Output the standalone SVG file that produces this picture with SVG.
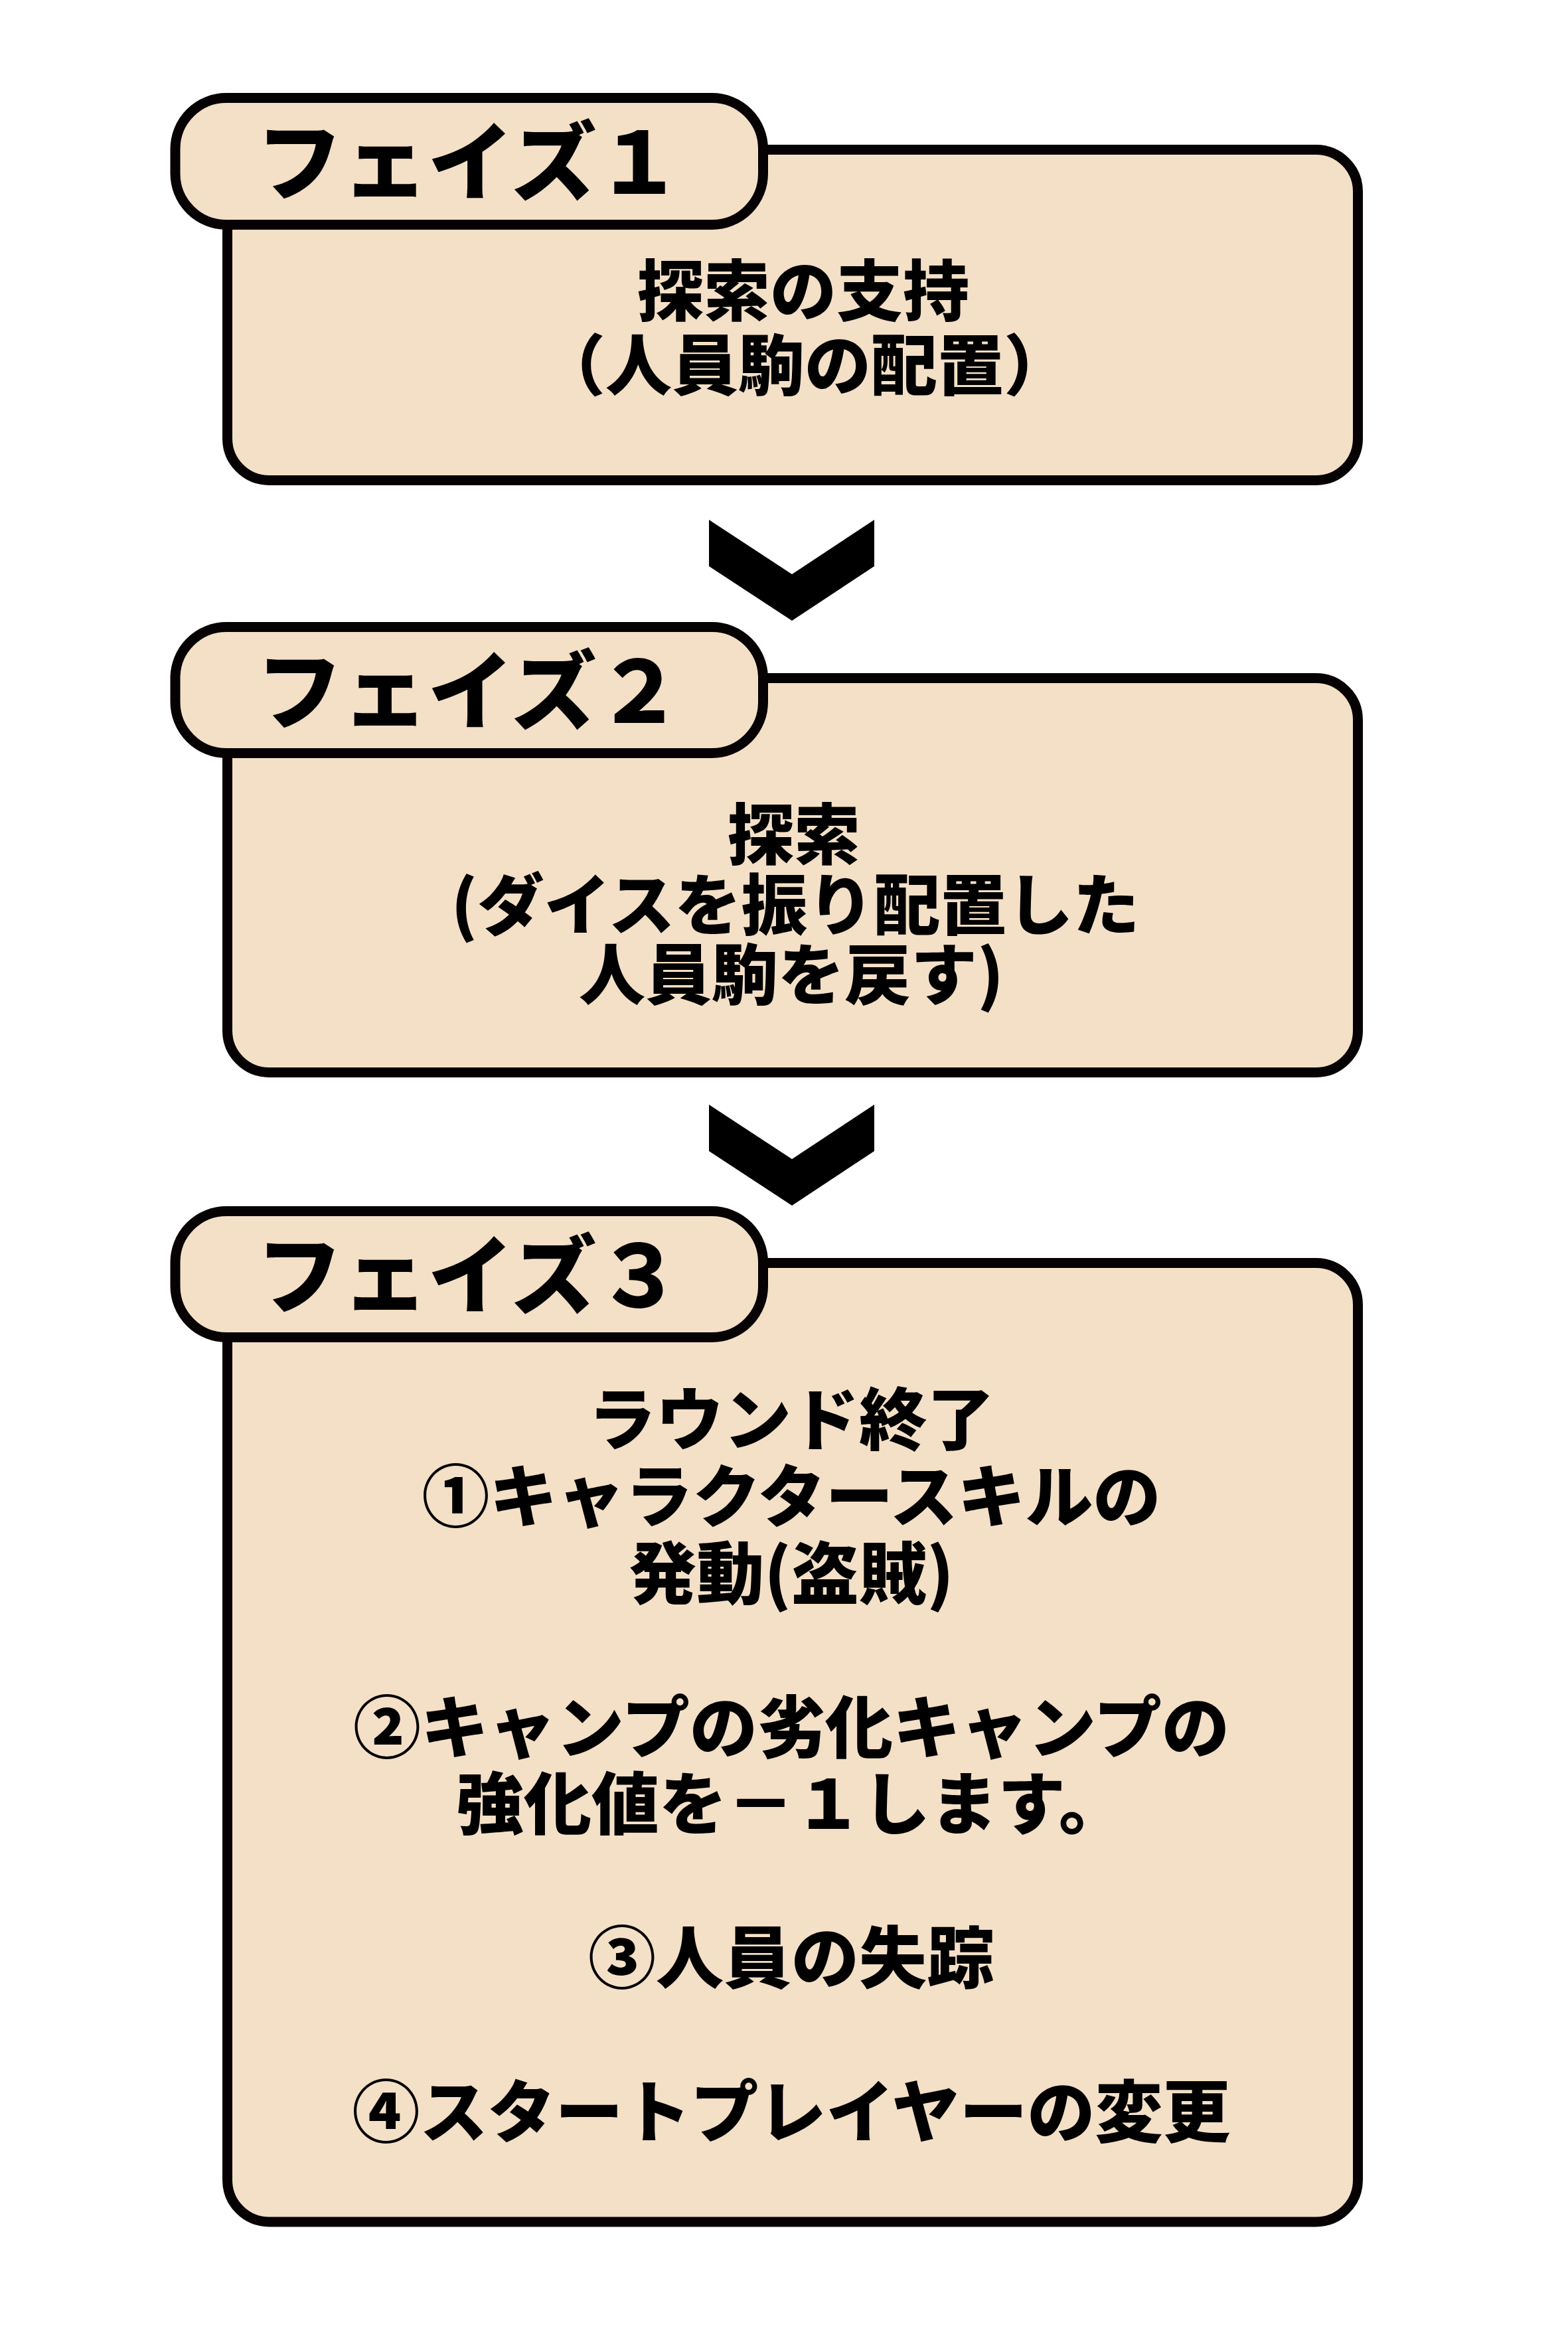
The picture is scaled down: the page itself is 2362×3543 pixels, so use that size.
<svg xmlns="http://www.w3.org/2000/svg" width="2362" height="3543" viewBox="0 0 2362 3543">
  <style>
    .box { fill: #F4E0C7; stroke: #060203; stroke-width: 15; }
    .tabtext { font-family: "Noto Sans CJK JP", "Noto Sans", sans-serif; font-weight: 900; font-size: 129px; fill: #000; text-anchor: middle; }
    .body { font-family: "Noto Sans CJK JP", "Noto Sans", sans-serif; font-weight: 900; font-size: 100px; fill: #000; text-anchor: middle; }
    .body3 { font-size: 102px; }
    .chev { fill: #000; }
  </style>
  <rect x="0" y="0" width="2362" height="3543" fill="#FFFFFF"/>

  <g id="connectors">
    <polygon class="chev" points="1068,783 1193,865 1317,783 1317,853 1193,935 1068,853"/>
    <polygon class="chev" points="1068,1664 1193,1746 1317,1664 1317,1734 1193,1816 1068,1734"/>
  </g>

  <g id="phase1">
    <rect class="box" x="342.5" y="225.5" width="1703" height="498" rx="63" ry="63"/>
    <rect class="box" x="264" y="147.5" width="885.5" height="191" rx="77" ry="77"/>
    <text class="tabtext" x="707" y="292">フェイズ１</text>
    <text class="body" x="1210" y="475">探索の支持</text>
    <text class="body" x="1212" y="587">（人員駒の配置）</text>
  </g>

  <g id="phase2">
    <rect class="box" x="342.5" y="1021.5" width="1703" height="594" rx="63" ry="63"/>
    <rect class="box" x="264" y="944.5" width="885.5" height="190" rx="77" ry="77"/>
    <text class="tabtext" x="707" y="1089">フェイズ２</text>
    <text class="body" x="1196" y="1294">探索</text>
    <text class="body" x="1198" y="1400">(ダイスを振り配置した</text>
    <text class="body" x="1192" y="1505">人員駒を戻す)</text>
  </g>

  <g id="phase3">
    <rect class="box" x="342.5" y="1902.5" width="1703" height="1444.5" rx="63" ry="63"/>
    <rect class="box" x="264" y="1824.5" width="885.5" height="190" rx="77" ry="77"/>
    <text class="tabtext" x="707" y="1969">フェイズ３</text>
    <text class="body body3" x="1192" y="2176">ラウンド終了</text>
    <text class="body body3" x="1192" y="2292">①キャラクタースキルの</text>
    <text class="body body3" x="1192" y="2408">発動(盗賊)</text>
    <text class="body body3" x="1192" y="2640">②キャンプの劣化キャンプの</text>
    <text class="body body3" x="1192" y="2755">強化値を－１します。</text>
    <text class="body body3" x="1192" y="2987">③人員の失踪</text>
    <text class="body body3" x="1192" y="3219">④スタートプレイヤーの変更</text>
  </g>
</svg>
